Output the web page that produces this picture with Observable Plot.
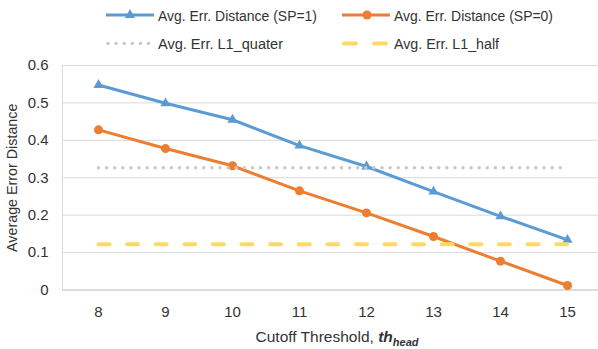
<!DOCTYPE html>
<html>
<head>
<meta charset="utf-8">
<script src="https://cdn.jsdelivr.net/npm/d3@7"></script>
<script src="https://cdn.jsdelivr.net/npm/@observablehq/plot@0.6"></script>
<style>
  body { margin: 0; background: white; }
  #wrap { width: 598px; height: 349px; position: relative; overflow: hidden; }
  #legend { display: block; }
</style>
</head>
<body>
<div id="wrap">
  <svg id="legend" width="598" height="52"></svg>
  <div id="chart"></div>
</div>
<script>
const categories = [8, 9, 10, 11, 12, 13, 14, 15];
const sp1 = [0.548, 0.499, 0.455, 0.386, 0.330, 0.263, 0.197, 0.134];
const sp0 = [0.428, 0.378, 0.332, 0.265, 0.206, 0.143, 0.077, 0.012];
const l1Quater = [0.327, 0.327, 0.327, 0.327, 0.327, 0.327, 0.327, 0.327];
const l1Half = [0.122, 0.122, 0.122, 0.122, 0.122, 0.122, 0.122, 0.122];
const yTicks = [0, 0.1, 0.2, 0.3, 0.4, 0.5, 0.6];
const seriesNames = ["Avg. Err. Distance (SP=1)", "Avg. Err. Distance (SP=0)", "Avg. Err. L1_quater", "Avg. Err. L1_half"];

const FONT = "'Liberation Sans', Arial, sans-serif";
const TEXT = "#333333";
const BLUE = "#5B9BD5", ORANGE = "#ED7D31", GRAY = "#C9C9C9", YELLOW = "#FFD966";

const data = categories.map((c, i) => ({c, sp1: sp1[i], sp0: sp0[i], q: l1Quater[i], h: l1Half[i]}));

// Legend (drawn above the plot SVG)
const lg = d3.select("#legend");
const items = [
  {name: seriesNames[0], color: BLUE, x: 106, y: 15, type: "tri", len: 159},
  {name: seriesNames[1], color: ORANGE, x: 342, y: 15, type: "circ", len: 159},
  {name: seriesNames[2], color: GRAY, x: 106, y: 43.5, type: "dot", len: 125},
  {name: seriesNames[3], color: YELLOW, x: 342, y: 43.5, type: "dash", len: 105}
];
for (const it of items) {
  const g = lg.append("g").attr("transform", `translate(${it.x},${it.y})`);
  const line = g.append("line").attr("x1", 0).attr("x2", 48).attr("y1", 0).attr("y2", 0)
    .attr("stroke", it.color).attr("stroke-width", it.type === "dot" ? 3.5 : (it.type === "dash" ? 4 : 3))
    .attr("stroke-linecap", (it.type === "dot" || it.type === "dash") ? "round" : "butt");
  if (it.type === "dot") line.attr("stroke-dasharray", "0,8.1").attr("x1", 2).attr("x2", 44);
  if (it.type === "dash") line.attr("stroke-dasharray", "12,18").attr("x1", 2).attr("x2", 44);
  if (it.type === "tri") g.append("path").attr("d", d3.symbol(d3.symbolTriangle, 45)()).attr("transform", "translate(24,0)").attr("fill", it.color);
  if (it.type === "circ") g.append("circle").attr("cx", 25).attr("cy", 0).attr("r", 4.5).attr("fill", it.color);
  g.append("text").attr("x", 52).attr("y", 0).attr("dy", "0.36em")
    .attr("font-family", FONT).attr("font-size", 15.5).attr("fill", TEXT)
    .attr("textLength", it.len).attr("lengthAdjust", "spacingAndGlyphs")
    .text(it.name);
}

const chart = Plot.plot({
  width: 598,
  height: 297,
  marginTop: 13,
  marginBottom: 59.5,
  marginLeft: 62,
  marginRight: 0,
  style: {fontFamily: FONT, fontSize: "15px", color: TEXT, background: "white", overflow: "visible"},
  x: {type: "point", domain: categories, range: [62, 603], padding: 0.5, axis: null},
  y: {domain: [0, 0.6], axis: null},
  marks: [
    Plot.gridY(yTicks.slice(1), {stroke: "#D9D9D9", strokeOpacity: 1, strokeWidth: 1}),
    Plot.ruleY([0], {stroke: "#D0D0D0", strokeWidth: 1.5}),
    Plot.frame({anchor: "left", stroke: "#D9D9D9", strokeWidth: 1}),
    Plot.axisY(yTicks, {tickSize: 0, tickPadding: 14, fontSize: 15, label: null,
      tickFormat: d => d === 0 ? "0" : d.toFixed(1)}),
    Plot.text(["Average Error Distance"], {frameAnchor: "left", textAnchor: "middle", dx: -50, rotate: -90, fontSize: 14.3, fill: TEXT}),
    Plot.axisX(categories, {tickSize: 0, tickPadding: 16.5, fontSize: 15, label: null}),
    Plot.line(data, {x: "c", y: "sp1", stroke: BLUE, strokeWidth: 3}),
    Plot.dot(data, {x: "c", y: "sp1", symbol: "triangle", r: 3.8, fill: BLUE}),
    Plot.line(data, {x: "c", y: "sp0", stroke: ORANGE, strokeWidth: 3}),
    Plot.dot(data, {x: "c", y: "sp0", symbol: "circle", r: 4.5, fill: ORANGE}),
    Plot.line(data, {x: "c", y: "q", stroke: GRAY, strokeWidth: 3.5, strokeDasharray: "0,8.1", strokeLinecap: "round"}),
    Plot.line(data, {x: "c", y: "h", stroke: YELLOW, strokeWidth: 4, strokeDasharray: "11,17.6", strokeLinecap: "round"})
  ]
});
document.getElementById("chart").appendChild(chart);

// x-axis title with bold-italic subscript
const t = d3.select(chart).append("text")
  .attr("x", 337).attr("y", 289.5)
  .attr("text-anchor", "middle")
  .attr("font-family", FONT).attr("font-size", 15.5).attr("fill", TEXT);
t.append("tspan").text("Cutoff Threshold, ");
t.append("tspan").attr("font-weight", "bold").attr("font-style", "italic").text("th");
t.append("tspan").attr("font-weight", "bold").attr("font-style", "italic").attr("font-size", 11).attr("dy", 4).text("head");
</script>
</body>
</html>
